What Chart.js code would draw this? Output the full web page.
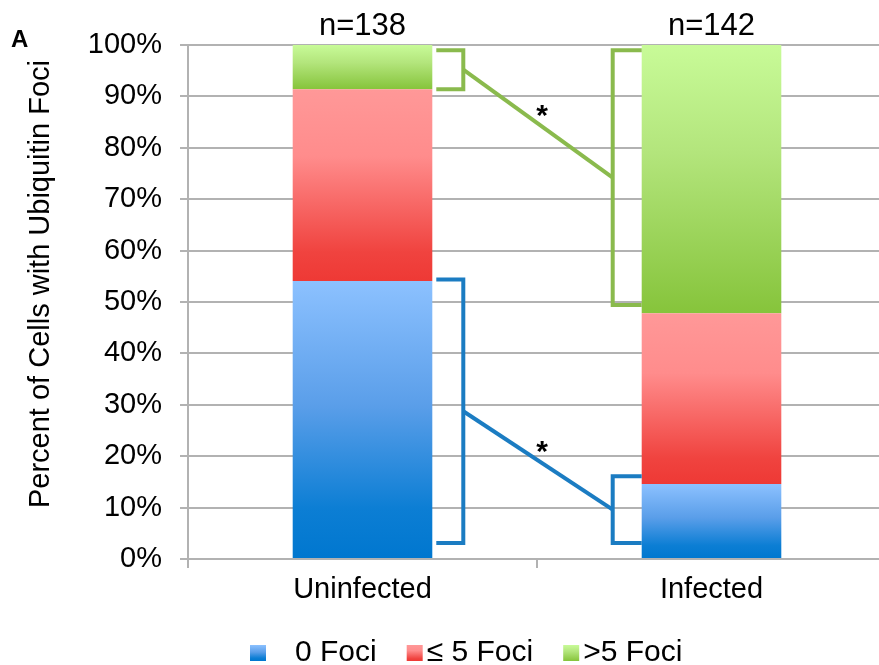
<!DOCTYPE html>
<html>
<head>
<meta charset="utf-8">
<script src="https://cdn.jsdelivr.net/npm/chart.js@4.4.1/dist/chart.umd.min.js"></script>
<style>
  html, body { margin: 0; padding: 0; background: #fff; overflow: hidden; }
  #wrap { width: 887px; height: 665px; }
</style>
</head>
<body>
<div id="wrap"><canvas id="chart" width="887" height="665"></canvas></div>
<script>
const FONT = "'Liberation Sans', Arial, sans-serif";
const GRID = "#b2b2b2";

const categories = ["Uninfected", "Infected"];
const sampleSizes = ["n=138", "n=142"];
const seriesNames = ["0 Foci", "≤ 5 Foci", ">5 Foci"];
const legendLabels = ["   0 Foci", "≤ 5 Foci", ">5 Foci"];
const zeroFoci = [54.1, 14.6];
const fewFoci = [37.3, 33.2];
const manyFoci = [8.6, 52.2];
const yTickValues = [0, 10, 20, 30, 40, 50, 60, 70, 80, 90, 100];
const yTitle = "Percent of Cells with Ubiquitin Foci";
const panelLabel = "A";

// significance brackets, percent range per category
const greenBracketLow = [91.4, 49.4];
const greenBracketHigh = [99.0, 99.0];
const blueBracketLow = [3.1, 3.1];
const blueBracketHigh = [54.4, 16.1];

const BLUE_STOPS = [[0, "#8cc1ff"], [0.45, "#5a9ee9"], [0.82, "#0c7ed4"], [1, "#0077cf"]];
const RED_STOPS = [[0, "#ff9898"], [0.35, "#ff8c8c"], [0.85, "#f0433f"], [1, "#ee3935"]];
const GREEN_STOPS = [[0, "#c8fb98"], [0.4, "#b3e57c"], [1, "#86c43b"]];

function addStops(g, stops) {
    stops.forEach(([o, c]) => g.addColorStop(o, c));
    return g;
}

// each stacked segment gets its own top-to-bottom gradient
function segmentGradient(stops) {
    return (context) => {
        const chart = context.chart;
        if (!chart.chartArea || context.type !== "data") {
            return stops[stops.length - 1][1];
        }
        const y = chart.scales.y;
        const i = context.dataIndex;
        let base = 0;
        for (let d = 0; d < context.datasetIndex; d++) {
            base += chart.data.datasets[d].data[i];
        }
        const top = base + chart.data.datasets[context.datasetIndex].data[i];
        const g = chart.ctx.createLinearGradient(0, y.getPixelForValue(top), 0, y.getPixelForValue(base));
        return addStops(g, stops);
    };
}

const significancePlugin = {
    id: "significance",
    afterDatasetsDraw(chart) {
        const ctx = chart.ctx;
        const y = chart.scales.y;
        const bars = chart.getDatasetMeta(0).data;
        const right1 = bars[0].x + bars[0].width / 2;
        const left2 = bars[1].x - bars[1].width / 2;
        const armStart = right1 + 4;
        const leftV = right1 + 31;
        const rightV = left2 - 29;
        const armEnd = left2;
        const groups = [
            { low: greenBracketLow, high: greenBracketHigh, color: "#8aba4d" },
            { low: blueBracketLow, high: blueBracketHigh, color: "#1b7cc2" },
        ];
        ctx.save();
        ctx.lineWidth = 4;
        ctx.lineJoin = "miter";
        ctx.lineCap = "butt";
        groups.forEach((grp) => {
            ctx.strokeStyle = grp.color;
            const t1 = y.getPixelForValue(grp.high[0]);
            const b1 = y.getPixelForValue(grp.low[0]);
            const t2 = y.getPixelForValue(grp.high[1]);
            const b2 = y.getPixelForValue(grp.low[1]);
            ctx.beginPath();
            ctx.moveTo(armStart, t1);
            ctx.lineTo(leftV, t1);
            ctx.lineTo(leftV, b1);
            ctx.lineTo(armStart, b1);
            ctx.stroke();
            ctx.beginPath();
            ctx.moveTo(armEnd, t2);
            ctx.lineTo(rightV, t2);
            ctx.lineTo(rightV, b2);
            ctx.lineTo(armEnd, b2);
            ctx.stroke();
            const m1 = (t1 + b1) / 2;
            const m2 = (t2 + b2) / 2;
            ctx.beginPath();
            ctx.moveTo(leftV, m1);
            ctx.lineTo(rightV, m2);
            ctx.stroke();
            ctx.fillStyle = "#000";
            ctx.font = "bold 30px " + FONT;
            ctx.textAlign = "center";
            ctx.textBaseline = "alphabetic";
            ctx.fillText("*", (leftV + rightV) / 2 + 4, (m1 + m2) / 2 + 1);
        });
        ctx.restore();
    },
};

const textPlugin = {
    id: "texts",
    afterDraw(chart) {
        const ctx = chart.ctx;
        const x = chart.scales.x;
        const area = chart.chartArea;
        ctx.save();
        ctx.fillStyle = "#000";

        ctx.font = "bold 24px " + FONT;
        ctx.textAlign = "left";
        ctx.textBaseline = "alphabetic";
        ctx.fillText(panelLabel, 11, 47);

        ctx.font = "31px " + FONT;
        ctx.textAlign = "center";
        sampleSizes.forEach((s, i) => {
            ctx.fillText(s, x.getPixelForValue(i), area.top - 10);
        });

        ctx.save();
        ctx.translate(41, 284);
        ctx.rotate(-Math.PI / 2);
        ctx.font = "29px " + FONT;
        ctx.textAlign = "center";
        ctx.textBaseline = "middle";
        ctx.fillText(yTitle, 0, 0);
        ctx.restore();

        // legend
        const stops = [BLUE_STOPS, RED_STOPS, GREEN_STOPS];
        const box = 16;
        let lx = 250;
        const ly = 653;
        ctx.font = "30px " + FONT;
        ctx.textAlign = "left";
        ctx.textBaseline = "middle";
        legendLabels.forEach((label, i) => {
            const g = ctx.createLinearGradient(0, ly - box / 2, 0, ly + box / 2);
            ctx.fillStyle = addStops(g, stops[i]);
            ctx.fillRect(lx, ly - box / 2, box, box);
            lx += box + 4;
            ctx.fillStyle = "#000";
            ctx.fillText(label, lx, ly);
            lx += ctx.measureText(label).width + 30;
        });
        ctx.restore();
    },
};

new Chart(document.getElementById("chart"), {
    type: "bar",
    data: {
        labels: categories,
        datasets: [
            { label: seriesNames[0], data: zeroFoci, backgroundColor: segmentGradient(BLUE_STOPS) },
            { label: seriesNames[1], data: fewFoci, backgroundColor: segmentGradient(RED_STOPS) },
            { label: seriesNames[2], data: manyFoci, backgroundColor: segmentGradient(GREEN_STOPS) },
        ].map((d) => ({ ...d, borderWidth: 0, barPercentage: 0.4, categoryPercentage: 1.0 })),
    },
    options: {
        responsive: false,
        animation: false,
        layout: { padding: { top: 45, right: 1, bottom: 0, left: 0 } },
        scales: {
            x: {
                stacked: true,
                grid: { display: true, drawOnChartArea: false, offset: true, tickLength: 9, color: GRID, lineWidth: 2 },
                border: { display: true, color: GRID, width: 2 },
                ticks: { color: "#000", font: { size: 29, family: FONT }, padding: 5 },
                afterFit: (s) => { s.height = 106; },
            },
            y: {
                stacked: true,
                min: 0,
                max: 100,
                afterBuildTicks: (s) => { s.ticks = yTickValues.map((v) => ({ value: v })); },
                ticks: { color: "#000", font: { size: 29, family: FONT }, padding: 18, callback: (v) => v + "%" },
                grid: { color: GRID, lineWidth: 2, tickLength: 8 },
                border: { display: true, color: GRID, width: 2 },
                afterFit: (s) => { s.width = 188; },
            },
        },
        plugins: {
            legend: { display: false },
            tooltip: { enabled: false },
        },
    },
    plugins: [significancePlugin, textPlugin],
});
</script>
</body>
</html>
